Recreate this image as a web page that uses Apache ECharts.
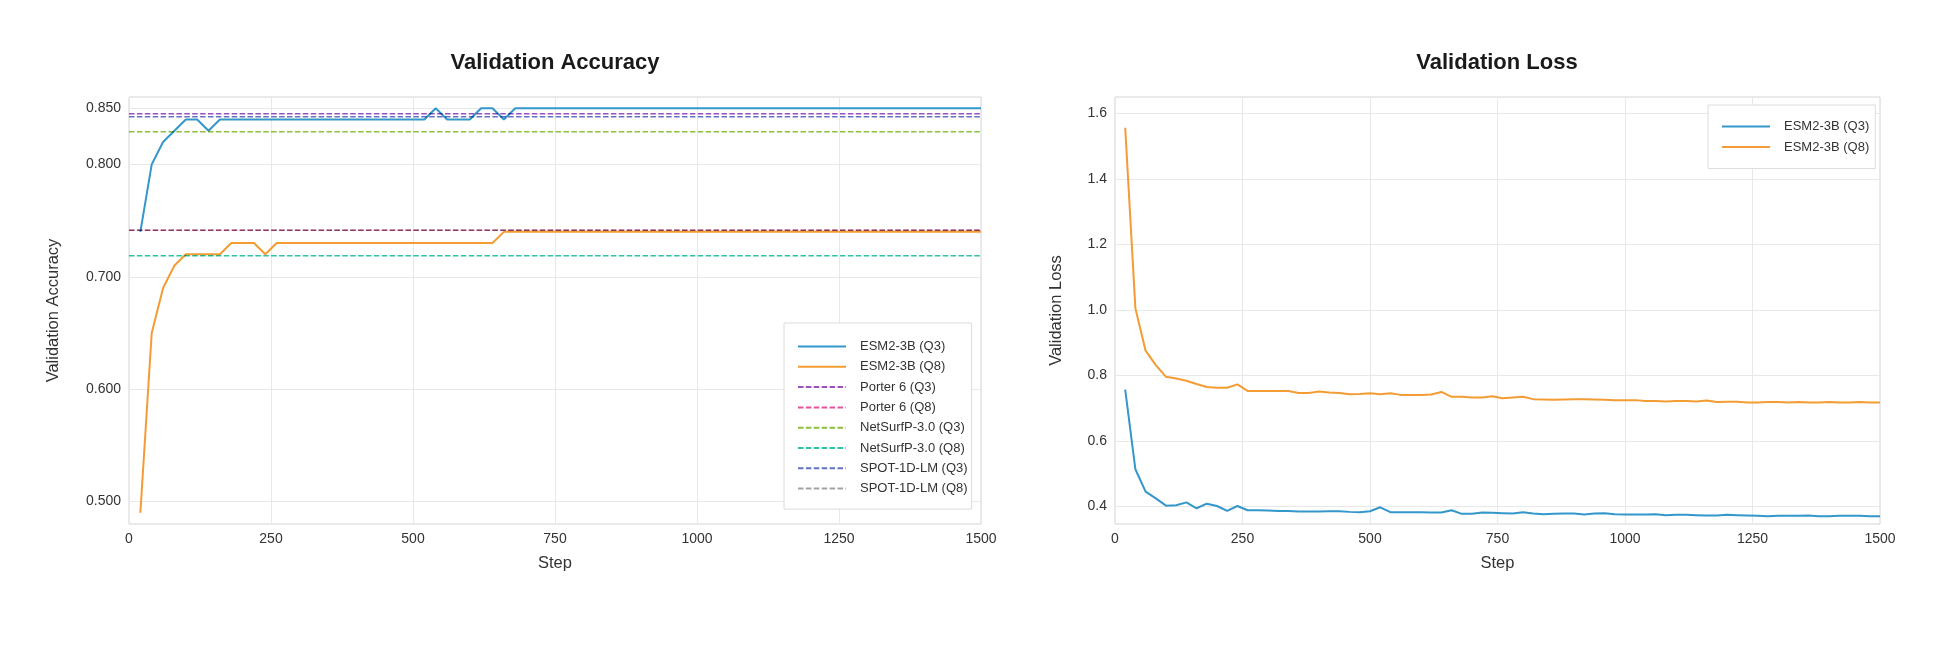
<!DOCTYPE html>
<html>
<head>
<meta charset="utf-8">
<title>Validation Accuracy / Loss</title>
<style>
  html, body { margin: 0; padding: 0; background: #fff; }
  #main { width: 1949px; height: 659px; }
</style>
</head>
<body>
<div id="main"></div>
<script src="https://cdn.jsdelivr.net/npm/echarts@6/dist/echarts.min.js"></script>
<script>
// training steps (evaluated every 20 steps)
var steps = [20, 40, 60, 80, 100, 120, 140, 160, 180, 200,
             220, 240, 260, 280, 300, 320, 340, 360, 380, 400,
             420, 440, 460, 480, 500, 520, 540, 560, 580, 600,
             620, 640, 660, 680, 700, 720, 740, 760, 780, 800,
             820, 840, 860, 880, 900, 920, 940, 960, 980, 1000,
             1020, 1040, 1060, 1080, 1100, 1120, 1140, 1160, 1180, 1200,
             1220, 1240, 1260, 1280, 1300, 1320, 1340, 1360, 1380, 1400,
             1420, 1440, 1460, 1480, 1500];

var accQ3 = [0.74, 0.80, 0.82, 0.83, 0.84, 0.84, 0.83, 0.84, 0.84, 0.84,
             0.84, 0.84, 0.84, 0.84, 0.84, 0.84, 0.84, 0.84, 0.84, 0.84,
             0.84, 0.84, 0.84, 0.84, 0.84, 0.84, 0.85, 0.84, 0.84, 0.84,
             0.85, 0.85, 0.84, 0.85, 0.85, 0.85, 0.85, 0.85, 0.85, 0.85,
             0.85, 0.85, 0.85, 0.85, 0.85, 0.85, 0.85, 0.85, 0.85, 0.85,
             0.85, 0.85, 0.85, 0.85, 0.85, 0.85, 0.85, 0.85, 0.85, 0.85,
             0.85, 0.85, 0.85, 0.85, 0.85, 0.85, 0.85, 0.85, 0.85, 0.85,
             0.85, 0.85, 0.85, 0.85, 0.85];

var accQ8 = [0.49, 0.65, 0.69, 0.71, 0.72, 0.72, 0.72, 0.72, 0.73, 0.73,
             0.73, 0.72, 0.73, 0.73, 0.73, 0.73, 0.73, 0.73, 0.73, 0.73,
             0.73, 0.73, 0.73, 0.73, 0.73, 0.73, 0.73, 0.73, 0.73, 0.73,
             0.73, 0.73, 0.74, 0.74, 0.74, 0.74, 0.74, 0.74, 0.74, 0.74,
             0.74, 0.74, 0.74, 0.74, 0.74, 0.74, 0.74, 0.74, 0.74, 0.74,
             0.74, 0.74, 0.74, 0.74, 0.74, 0.74, 0.74, 0.74, 0.74, 0.74,
             0.74, 0.74, 0.74, 0.74, 0.74, 0.74, 0.74, 0.74, 0.74, 0.74,
             0.74, 0.74, 0.74, 0.74, 0.74];

var lossQ3 = [0.757, 0.514, 0.446, 0.425, 0.403, 0.404, 0.413, 0.395, 0.409, 0.402,
              0.387, 0.402, 0.389, 0.389, 0.388, 0.387, 0.387, 0.385, 0.385, 0.385,
              0.386, 0.386, 0.384, 0.383, 0.386, 0.398, 0.383, 0.383, 0.383, 0.383,
              0.382, 0.382, 0.389, 0.378, 0.378, 0.382, 0.381, 0.380, 0.379, 0.383,
              0.379, 0.377, 0.378, 0.379, 0.379, 0.376, 0.379, 0.380, 0.377, 0.376,
              0.376, 0.376, 0.377, 0.374, 0.375, 0.375, 0.374, 0.373, 0.373, 0.375,
              0.374, 0.373, 0.372, 0.371, 0.372, 0.372, 0.372, 0.373, 0.371, 0.371,
              0.372, 0.372, 0.372, 0.371, 0.371];

var lossQ8 = [1.556, 1.005, 0.876, 0.832, 0.796, 0.791, 0.784, 0.774, 0.765, 0.763,
              0.763, 0.773, 0.753, 0.753, 0.753, 0.753, 0.753, 0.747, 0.747, 0.751,
              0.748, 0.747, 0.743, 0.744, 0.746, 0.743, 0.746, 0.741, 0.741, 0.741,
              0.742, 0.750, 0.735, 0.735, 0.733, 0.733, 0.737, 0.731, 0.733, 0.735,
              0.728, 0.727, 0.726, 0.727, 0.728, 0.728, 0.727, 0.726, 0.725, 0.725,
              0.725, 0.722, 0.722, 0.721, 0.722, 0.722, 0.721, 0.724, 0.719, 0.720,
              0.720, 0.718, 0.718, 0.719, 0.719, 0.718, 0.719, 0.718, 0.718, 0.719,
              0.718, 0.718, 0.719, 0.718, 0.718];

// published baselines (horizontal reference lines)
var baselineNames = ['Porter 6 (Q3)', 'Porter 6 (Q8)', 'NetSurfP-3.0 (Q3)',
                     'NetSurfP-3.0 (Q8)', 'SPOT-1D-LM (Q3)', 'SPOT-1D-LM (Q8)'];
var baselineValues = [0.845, 0.7415, 0.829, 0.7187, 0.8425, 0.7415];

var accTicks = [0.5, 0.6, 0.7, 0.8, 0.85];
var lossTicks = [0.4, 0.6, 0.8, 1.0, 1.2, 1.4, 1.6];

var esmNames = ['ESM2-3B (Q3)', 'ESM2-3B (Q8)'];

var esmColors = ['#3497cb', '#f39c33'];
var baselineColors = ['#9b4fc0', '#e2559c', '#8fbf3f', '#2cc4a4', '#6673c2', '#a3a3a3'];

var FONT = '"Liberation Sans", Arial, sans-serif';

function pairs(xs, ys) {
  return xs.map(function (x, i) { return [x, ys[i]]; });
}

var chart = echarts.init(document.getElementById('main'));

function yAxisFor(gridIndex, name, min, max, ticks, digits, nameGap) {
  return {
    type: 'value', gridIndex: gridIndex, min: min, max: max,
    name: name, nameLocation: 'middle', nameGap: nameGap,
    nameTextStyle: { fontSize: 16.5, color: '#333', fontFamily: FONT },
    axisLine: { show: false },
    axisTick: { show: false, customValues: ticks },
    axisLabel: {
      customValues: ticks, margin: 8, fontSize: 14, color: '#333', fontFamily: FONT,
      formatter: function (v) { return v.toFixed(digits); }
    },
    splitLine: { show: true, lineStyle: { color: '#e8e8e8', width: 1 } }
  };
}

function xAxisFor(gridIndex) {
  return {
    type: 'value', gridIndex: gridIndex, min: 0, max: 1500, interval: 250,
    name: 'Step', nameLocation: 'middle', nameGap: 31,
    nameTextStyle: { fontSize: 16.5, color: '#333', fontFamily: FONT },
    axisLine: { show: false },
    axisTick: { show: false },
    axisLabel: {
      margin: 8, fontSize: 14, color: '#333', fontFamily: FONT,
      formatter: function (v) { return String(v); }
    },
    splitLine: { show: true, lineStyle: { color: '#e8e8e8', width: 1 } }
  };
}

var series = [];
series.push({
  name: esmNames[0], type: 'line', xAxisIndex: 0, yAxisIndex: 0,
  data: pairs(steps, accQ3), symbol: 'none', color: esmColors[0],
  lineStyle: { width: 2 }
});
series.push({
  name: esmNames[1], type: 'line', xAxisIndex: 0, yAxisIndex: 0,
  data: pairs(steps, accQ8), symbol: 'none', color: esmColors[1],
  lineStyle: { width: 2 }
});
baselineNames.forEach(function (n, i) {
  series.push({
    name: n, type: 'line', xAxisIndex: 0, yAxisIndex: 0,
    data: [[0, baselineValues[i]], [1500, baselineValues[i]]],
    symbol: 'none', color: baselineColors[i],
    blendMode: 'multiply',
    lineStyle: { width: 1.5, type: [5.5, 2.4] }
  });
});
series.push({
  name: esmNames[0], type: 'line', xAxisIndex: 1, yAxisIndex: 1,
  data: pairs(steps, lossQ3), symbol: 'none', color: esmColors[0],
  lineStyle: { width: 2 }
});
series.push({
  name: esmNames[1], type: 'line', xAxisIndex: 1, yAxisIndex: 1,
  data: pairs(steps, lossQ8), symbol: 'none', color: esmColors[1],
  lineStyle: { width: 2 }
});

var legendBase = {
  orient: 'vertical', itemWidth: 48, itemHeight: 14,
  backgroundColor: '#fff', borderColor: '#dcdcdc', borderWidth: 1,
  itemStyle: { opacity: 0 },
  textStyle: { fontSize: 13, color: '#333', fontFamily: FONT, padding: [0, 0, 0, 9] },
  selectedMode: false
};

chart.setOption({
  animation: false,
  backgroundColor: '#fff',
  textStyle: { fontFamily: FONT },
  title: [
    { text: 'Validation Accuracy', left: 555, top: 52, textAlign: 'center', padding: 0,
      textStyle: { fontSize: 22, fontWeight: 'bold', color: '#1a1a1a', fontFamily: FONT } },
    { text: 'Validation Loss', left: 1497, top: 52, textAlign: 'center', padding: 0,
      textStyle: { fontSize: 22, fontWeight: 'bold', color: '#1a1a1a', fontFamily: FONT } }
  ],
  grid: [
    { left: 129, top: 97, width: 852, height: 427, show: true, borderColor: '#d4d4d4', borderWidth: 1, backgroundColor: '#fff' },
    { left: 1115, top: 97, width: 765, height: 427, show: true, borderColor: '#d4d4d4', borderWidth: 1, backgroundColor: '#fff' }
  ],
  xAxis: [xAxisFor(0), xAxisFor(1)],
  yAxis: [
    yAxisFor(0, 'Validation Accuracy', 0.48, 0.86, accTicks, 3, 67),
    yAxisFor(1, 'Validation Loss', 0.347, 1.65, lossTicks, 1, 50)
  ],
  legend: [
    Object.assign({}, legendBase, {
      left: 784, top: 323, itemGap: 7.3, padding: [17, 4, 14, 13],
      data: esmNames.concat(baselineNames)
    }),
    Object.assign({}, legendBase, {
      left: 1708, top: 105, itemGap: 7.6, padding: [15, 6, 15, 13],
      data: esmNames
    })
  ],
  series: series
});
</script>
</body>
</html>
